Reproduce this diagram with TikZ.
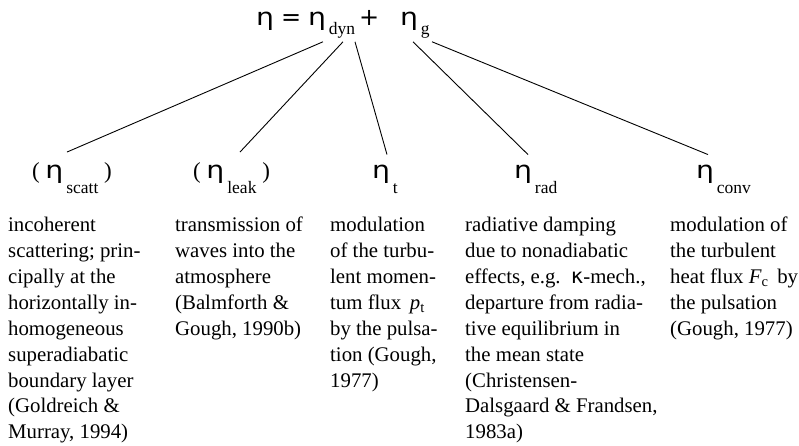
\documentclass[tikz,border=0pt]{standalone}
\usepackage{fontspec}
\usepackage{graphicx}
\setmainfont{Liberation Serif}
\newfontfamily\greekfont{DejaVu Sans}

% eta sign and the lowered subscript used in every label
\newcommand{\etasym}{\scalebox{1.18}[1]{\greekfont\fontsize{24}{24}\selectfont η}}
\newcommand{\lowsub}[2][15pt]{\kern3pt\raisebox{-#1}{\rmfamily\fontsize{17.5}{17.5}\selectfont #2}}

\begin{document}
\begin{tikzpicture}[
    x=1pt, y=-1pt,
    formula/.style={inner sep=0pt, outer xsep=0pt, outer ysep=4pt, anchor=base west, font=\greekfont\fontsize{24}{24}\selectfont},
    etalabel/.style={inner sep=0pt, outer xsep=0pt, outer ysep=10pt, anchor=base west, font=\fontsize{23}{23}\selectfont},
    desc/.style={inner sep=0pt, anchor=north west, align=left, font=\fontsize{20.8}{25.9}\selectfont},
    branch/.style={line width=0.9pt}
]
\useasboundingbox (0,0) rectangle (799,445);

% Top relation
\node[formula] (eta) at (256,25) {\etasym};
\node[formula] (eq) at (281,25) {=};
\node[formula] (etadyn) at (308,25) {\etasym\lowsub[9pt]{dyn}};
\node[formula] (plus) at (359,25) {+};
\node[formula] (etag) at (400,25) {\etasym\lowsub[9pt]{g}};

% Damping contributions
\node[etalabel] (scatt) at (32,178) {(\ \etasym\lowsub{scatt}\ )};
\node[etalabel] (leak) at (193,178) {(\ \etasym\lowsub{leak}\ )};
\node[etalabel] (etat) at (372,178) {\etasym\lowsub{t}};
\node[etalabel] (rad) at (514,178) {\etasym\lowsub{rad}};
\node[etalabel] (conv) at (696,178) {\etasym\lowsub{conv}};

% Explanations under each contribution
\node[desc] (scattdesc) at (8,217) {incoherent\\ scattering; prin-\\ cipally at the\\ horizontally in-\\ homogeneous\\ superadiabatic\\ boundary layer\\ (Goldreich \&\\ Murray, 1994)};
\node[desc] (leakdesc) at (175,217) {transmission of\\ waves into the\\ atmosphere\\ (Balmforth \&\\ Gough, 1990b)};
\node[desc] (etatdesc) at (330,217) {modulation\\ of the turbu-\\ lent momen-\\ tum flux \,\textit{p}\textsubscript{t}\\ by the pulsa-\\ tion (Gough,\\ 1977)};
\node[desc] (raddesc) at (465,217) {radiative damping\\ due to nonadiabatic\\ effects, e.g. \,{\greekfont κ}-mech.,\\ departure from radia-\\ tive equilibrium in\\ the mean state\\ (Christensen-\\ Dalsgaard \& Frandsen,\\ 1983a)};
\node[desc] (convdesc) at (670,217) {modulation of\\ the turbulent\\ heat flux \textit{F}\textsubscript{c}\, by\\ the pulsation\\ (Gough, 1977)};

% Branches from the dynamical and gas parts
\draw[branch] ([xshift=15pt]etadyn.south west) -- ([xshift=35pt]scatt.north west);
\draw[branch] ([xshift=35pt]etadyn.south west) -- ([xshift=47pt]leak.north west);
\draw[branch] ([xshift=47pt]etadyn.south west) -- ([xshift=15pt]etat.north west);
\draw[branch] ([xshift=13pt]etag.south west) -- ([xshift=14pt]rad.north west);
\draw[branch] ([xshift=32pt]etag.south west) -- ([xshift=12pt]conv.north west);

\end{tikzpicture}
\end{document}
